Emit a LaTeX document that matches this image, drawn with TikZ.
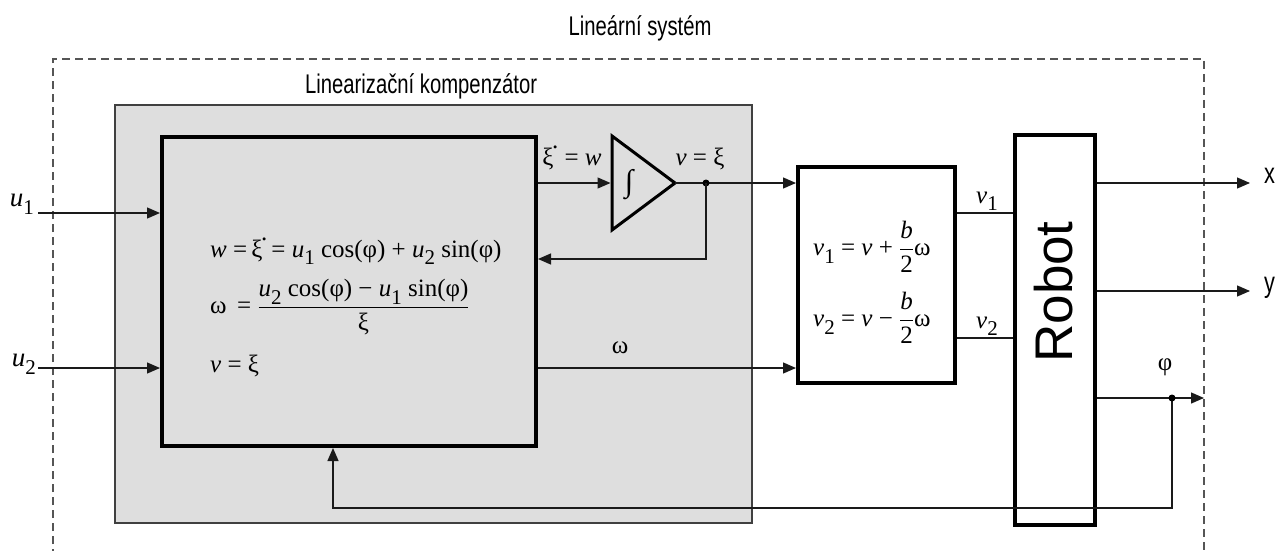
\documentclass[tikz,border=0pt]{standalone}
\usepackage{fontspec}
\setmainfont{Liberation Serif}
\newfontfamily\nsans[FakeStretch=0.75]{Liberation Sans}
\newfontfamily\rsans{Liberation Sans}
\usetikzlibrary{arrows.meta,calc}
\newcommand\xid{ξ\kern-0.06em\raisebox{0.68em}{.}}
\newcommand\sbs[1]{\raisebox{-0.3em}{\fontsize{21}{21}\selectfont #1}}
\newcommand\fr[2]{$\displaystyle\frac{\hbox{#1}}{\hbox{#2}}$}
\definecolor{bggrey}{HTML}{DEDEDE}
\definecolor{lnk}{HTML}{1A1A1A}
\definecolor{dashc}{HTML}{555555}
\begin{document}
\begin{tikzpicture}[x=1pt,y=-1pt,
  every node/.style={font=\fontsize{25}{30}\selectfont, inner sep=0pt},
  block/.style={draw=black, line width=4pt, rectangle},
  arr/.style={-{Triangle[length=13pt,width=11pt]}, line width=1.3pt, draw=lnk},
  ln/.style={line width=1.3pt, draw=lnk},
  dotc/.style={circle, fill=black, minimum size=7pt, inner sep=0pt},
  lbl/.style={font=\fontsize{27}{30}\selectfont\nsans},
  mlbl/.style={font=\fontsize{25}{30}\selectfont}
]
\useasboundingbox (0,0) rectangle (1287,551);
\clip (0,0) rectangle (1287,551);

% outer dashed frame
\draw[dashc, line width=1.3pt, dash pattern=on 8pt off 5pt] (53,570) -- (53,59) -- (1204,59) -- (1204,570);
\node[lbl, anchor=base] (title) at (640,36) {Lineární systém};

% grey compensator box
\node[draw=black!75, line width=1.3pt, fill=bggrey, minimum width=637pt, minimum height=418pt] (grey) at (433.5,314) {};
\node[lbl, anchor=base west] (glabel) at (305,93) {Linearizační kompenzátor};

% main block
\node[block, minimum width=374pt, minimum height=309pt] (main) at (349,291.5) {};
\node[anchor=west] (eq1) at (210,251) {\textit{w} =\,\xid\,= \textit{u}\sbs{1} cos(φ) + \textit{u}\sbs{2} sin(φ)};
\node[anchor=west] (eq2) at (210,307) {ω\ \,= \fr{\textit{u}\sbs{2} cos(φ) − \textit{u}\sbs{1} sin(φ)}{ξ}};
\node[anchor=west] (eq3) at (210,366) {\textit{v} = ξ};

% integrator
\coordinate (ta) at (612,136);
\coordinate (tb) at (675,183);
\coordinate (tc) at (612,230);
\draw[line width=3pt, line join=miter] (ta) -- (tb) -- (tc) -- cycle;
\coordinate (intin) at (610.5,183);
\node[font=\fontsize{31}{34}\selectfont] (intsym) at (629,185) {∫};

% middle block
\node[block, fill=white, minimum width=157pt, minimum height=216pt] (mid) at (876.5,275) {};
\node[anchor=west] (meq1) at (813,247) {\textit{v}\sbs{1} = \textit{v} + \fr{\textit{b}}{2}ω};
\node[anchor=west] (meq2) at (813,318) {\textit{v}\sbs{2} = \textit{v} − \fr{\textit{b}}{2}ω};

% robot
\node[block, fill=white, minimum width=80pt, minimum height=390pt] (robot) at (1055,330) {};
\node[rotate=90, font=\fontsize{53}{60}\selectfont\rsans] (rtext) at (1054,292) {Robot};

% helper levels
\coordinate (y183) at (0,183);
\coordinate (y213) at (0,213);
\coordinate (y338) at (0,338);
\coordinate (y368) at (0,368);

% inputs
\coordinate (u1s) at (38,213);
\coordinate (u2s) at (38,368);
\node[font=\fontsize{27}{30}\selectfont, anchor=base east] (u1l) at (34,206) {\textit{u}\sbs{1}};
\node[font=\fontsize{27}{30}\selectfont, anchor=base east] (u2l) at (36,366) {\textit{u}\sbs{2}};
\draw[arr] (u1s) -- (main.west |- u1s);
\draw[arr] (u2s) -- (main.west |- u2s);

% main -> integrator
\draw[arr] (main.east |- y183) -- (intin);
\node[mlbl, anchor=base] (xil) at (572,165) {\xid\ = \textit{w}};
% integrator -> mid
\coordinate (vdot) at (706,183);
\draw[arr] (tb) -- (mid.west |- y183);
\node[dotc] (vd) at (vdot) {};
\node[mlbl, anchor=base] (vl) at (700,165) {\textit{v} = ξ};
% feedback v
\coordinate (fbv) at (706,259);
\draw[arr] (vdot) -- (fbv) -- (main.east |- fbv);
% omega
\draw[arr] (main.east |- y368) -- (mid.west |- y368);
\node[mlbl, anchor=base] (oml) at (620,353) {ω};

% mid -> robot
\draw[ln] (mid.east |- y213) -- (robot.west |- y213);
\draw[ln] (mid.east |- y338) -- (robot.west |- y338);
\node[mlbl, anchor=base] (v1l) at (987,203) {\textit{v}\sbs{1}};
\node[mlbl, anchor=base] (v2l) at (987,328) {\textit{v}\sbs{2}};

% outputs
\coordinate (xo) at (1250,183);
\coordinate (yo) at (1250,291);
\coordinate (phio) at (1204,398);
\draw[arr] (robot.east |- xo) -- (xo);
\draw[arr] (robot.east |- yo) -- (yo);
\draw[arr] (robot.east |- phio) -- (phio);
\node[font=\fontsize{29}{30}\selectfont\nsans, anchor=base west] (xl) at (1264,183) {x};
\node[font=\fontsize{29}{30}\selectfont\nsans, anchor=base west] (yl) at (1264,292) {y};
\node[mlbl, anchor=base] (phil) at (1165,370) {φ};

% phi feedback
\coordinate (phidot) at (1172,398);
\coordinate (fb1) at (1172,508);
\coordinate (fb2) at (333,508);
\draw[arr] (phidot) -- (fb1) -- (fb2) -- (fb2 |- main.south);
\node[dotc] (pd) at (phidot) {};
\end{tikzpicture}
\end{document}
